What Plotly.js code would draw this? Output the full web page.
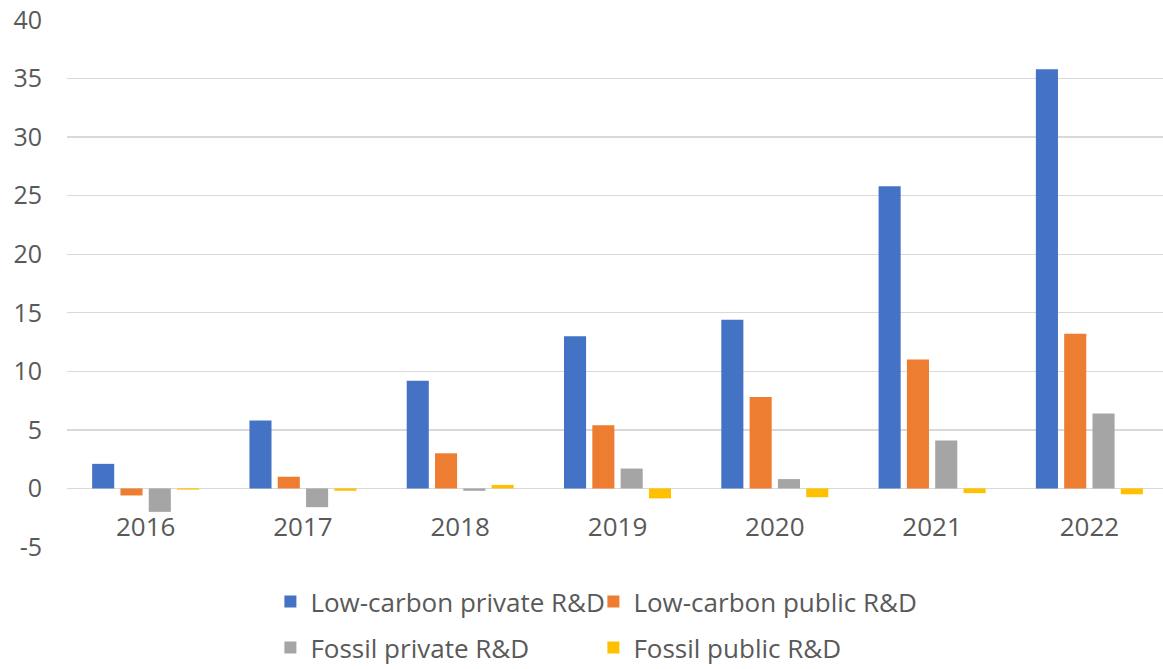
<!DOCTYPE html>
<html>
<head>
<meta charset="utf-8">
<script src="https://cdn.plot.ly/plotly-3.0.1.min.js"></script>
<style>html,body{margin:0;padding:0;background:#fff;}#chart{width:1163px;height:669px;}</style>
</head>
<body>
<div id="chart"></div>
<script>
const years = ["2016", "2017", "2018", "2019", "2020", "2021", "2022"];
const lowCarbonPrivate = [2.1, 5.8, 9.2, 13.0, 14.4, 25.8, 35.8];
const lowCarbonPublic = [-0.6, 1.0, 3.0, 5.4, 7.8, 11.0, 13.2];
const fossilPrivate = [-2.0, -1.6, -0.2, 1.7, 0.8, 4.1, 6.4];
const fossilPublic = [-0.1, -0.2, 0.3, -0.85, -0.75, -0.4, -0.5];
const seriesNames = ["Low-carbon private R&D", "Low-carbon public R&D", "Fossil private R&D", "Fossil public R&D"];
const yTicks = [-5, 0, 5, 10, 15, 20, 25, 30, 35, 40];

const colors = ["#4472C4", "#ED7D31", "#A5A5A5", "#FFC000"];
const values = [lowCarbonPrivate, lowCarbonPublic, fossilPrivate, fossilPublic];
const legends = ["legend", "legend", "legend2", "legend2"];

const traces = values.map((v, i) => ({
  type: "bar",
  x: years,
  y: v,
  name: seriesNames[i],
  marker: {color: colors[i]},
  legend: legends[i],
  hoverinfo: "x+y+name"
}));

const font = {family: "Open Sans, Noto Sans, sans-serif", size: 26, color: "#595959"};
const tickFont = {family: "Open Sans, Noto Sans, sans-serif", size: 25, color: "#595959"};

const legendCommon = {
  orientation: "h",
  xref: "container",
  yref: "container",
  x: 0.2325,
  xanchor: "left",
  yanchor: "top",
  entrywidth: 278,
  font: font,
  bgcolor: "rgba(0,0,0,0)",
  itemwidth: 30,
  traceorder: "normal"
};

const layout = {
  width: 1163,
  height: 669,
  margin: {l: 67, r: 0, t: 20, b: 122},
  paper_bgcolor: "#ffffff",
  plot_bgcolor: "#ffffff",
  font: font,
  barmode: "group",
  bargap: 0.28,
  bargroupgap: 0.22,
  showlegend: true,
  legend: Object.assign({}, legendCommon, {y: 1 - 578 / 669}),
  legend2: Object.assign({}, legendCommon, {y: 1 - 624 / 669}),
  xaxis: {
    type: "category",
    range: [-0.5, 6.468],
    anchor: "free",
    position: 5 / 45,
    showgrid: false,
    showline: false,
    zeroline: false,
    ticks: "",
    ticklabelstandoff: 21,
    tickfont: font,
    fixedrange: true
  },
  yaxis: {
    range: [-5, 40],
    tickvals: yTicks,
    ticktext: yTicks.map(String),
    showgrid: true,
    gridcolor: "#D9D9D9",
    gridwidth: 1.3,
    zeroline: true,
    zerolinecolor: "#D9D9D9",
    zerolinewidth: 1.6,
    showline: false,
    ticks: "",
    ticklabelstandoff: 24,
    tickfont: tickFont,
    fixedrange: true
  }
};

Plotly.newPlot("chart", traces, layout, {displayModeBar: false, staticPlot: true});
</script>
</body>
</html>
